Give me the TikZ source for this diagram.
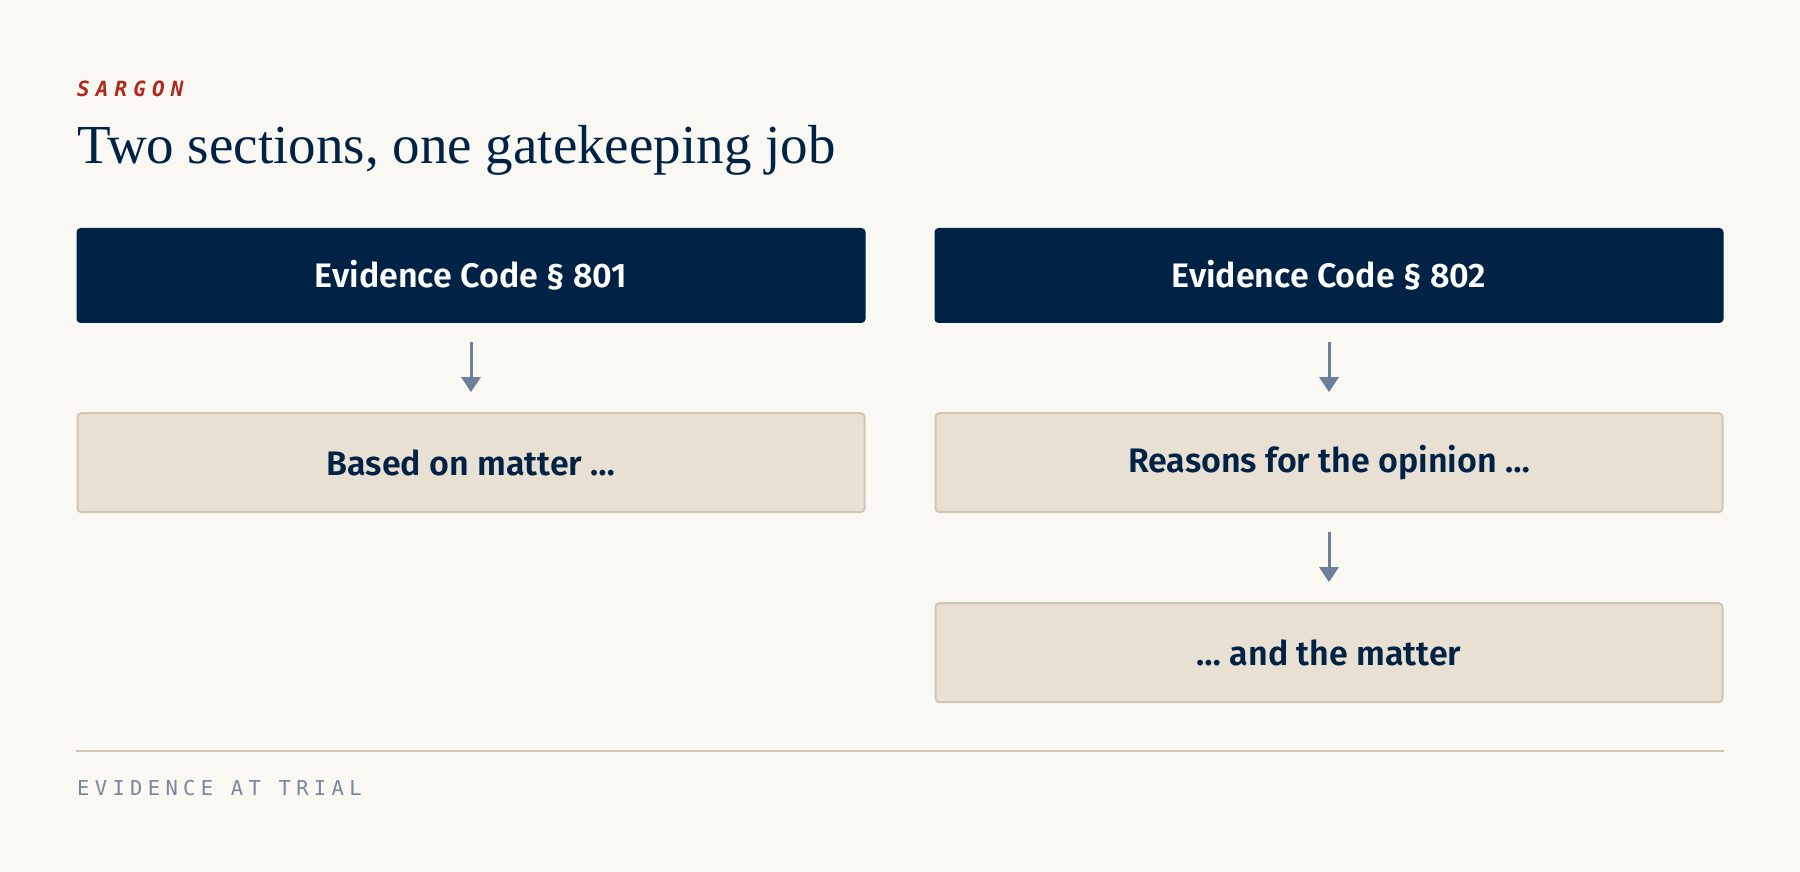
\documentclass[tikz,border=0pt]{standalone}
\usepackage{fontspec}
\setmainfont{Liberation Serif}
\newfontfamily\boxfont{Fira Sans}[UprightFont=* SemiBold]
\newfontfamily\monofont{DejaVu Sans Mono}
\usetikzlibrary{arrows.meta,positioning}

\definecolor{navy}{HTML}{002244}
\definecolor{paper}{HTML}{F9F8F3}
\definecolor{sand}{HTML}{E7E0D3}
\definecolor{sandline}{HTML}{D0C7B3}
\definecolor{slate}{HTML}{6E7F99}
\definecolor{brick}{HTML}{B0281E}
\definecolor{footgray}{HTML}{7A8799}

\begin{document}
\begin{tikzpicture}[
    x=1pt, y=1pt,
    node distance=89pt,
    codebox/.style={rectangle, rounded corners=4pt, fill=navy, text=white, minimum width=789pt, minimum height=95pt, inner sep=0pt, font=\boxfont\fontsize{34}{40}\selectfont},
    notebox/.style={rectangle, rounded corners=4pt, draw=sandline, line width=2pt, fill=sand, text=navy, minimum width=787pt, minimum height=99pt, inner sep=0pt, font=\boxfont\fontsize{34}{40}\selectfont},
    arrow/.style={-{Triangle[width=19pt, length=15pt]}, line width=3pt, draw=slate, shorten <=19pt, shorten >=20pt}
]

% Background
\fill[paper] (0,0) rectangle (1800,872);

% Title
\node[anchor=base west, inner sep=0pt, text=brick, font=\monofont\bfseries\itshape\fontsize{21}{25}\selectfont\addfontfeature{LetterSpace=29}] (kicker) at (77,775) {SARGON};
\node[anchor=base west, inner sep=0pt, text=navy, font=\fontsize{55}{65}\selectfont] (title) at (77,708) {Two sections, one gatekeeping job};

% Evidence Code 801
\node[codebox] (ec801) at (471,596.5) {Evidence Code § 801};
\node[notebox, below=of ec801] (based) {Based on matter \dots};

% Evidence Code 802
\node[codebox] (ec802) at (1329,596.5) {Evidence Code § 802};
\node[notebox, below=of ec802] (reasons) {Reasons for the opinion \dots};
\node[notebox, below=of reasons] (matter) {\dots\ and the matter};

% Arrows
\draw[arrow] (ec801) -- (based);
\draw[arrow] (ec802) -- (reasons);
\draw[arrow] (reasons) -- (matter);

% Footer
\draw[sandline, line width=2pt] (76,121) coordinate (ruleL) -- (1724,121) coordinate (ruleR);
\node[anchor=base west, inner sep=0pt, text=footgray, font=\monofont\fontsize{20.5}{24}\selectfont\addfontfeature{LetterSpace=26}] (footer) at (77,76) {EVIDENCE AT TRIAL};

\end{tikzpicture}
\end{document}
